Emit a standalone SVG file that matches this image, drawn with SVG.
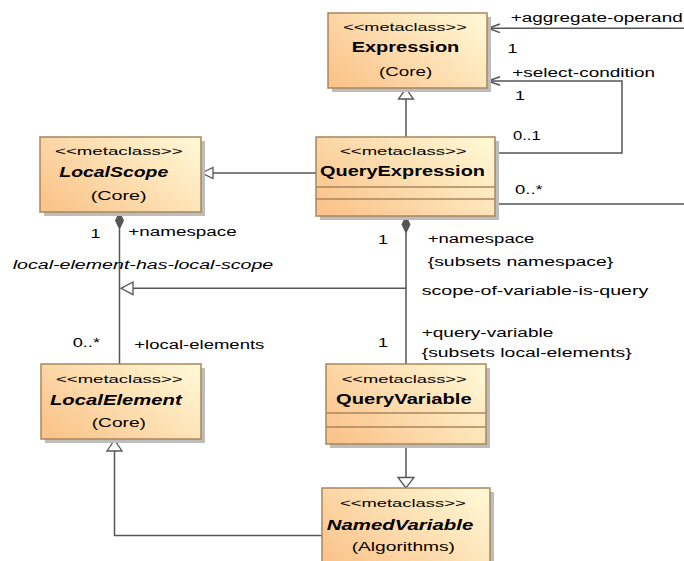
<svg xmlns="http://www.w3.org/2000/svg" width="684" height="561" viewBox="0 0 684 561">
<defs>
<linearGradient id="fillg" x1="0" y1="0.8" x2="1" y2="0.2">
<stop offset="0" stop-color="#fbc48c"/>
<stop offset="1" stop-color="#fff6d2"/>
</linearGradient>
<style>
.shadow{fill:#bdbdbd}
.box{fill:url(#fillg);stroke:#a8865c;stroke-width:1.5}
.sep{stroke:#a8865c;stroke-width:1.5}
.st{font-family:"Liberation Sans",Arial,sans-serif;font-size:11.5px;fill:#000}
.nm{font-family:"Liberation Sans",Arial,sans-serif;font-size:14px;font-weight:bold;fill:#000}
.nmi{font-family:"Liberation Sans",Arial,sans-serif;font-size:14px;font-weight:bold;font-style:italic;fill:#000}
.tx{font-family:"Liberation Sans",Arial,sans-serif;font-size:12.5px;fill:#000}
.txi{font-family:"Liberation Sans",Arial,sans-serif;font-size:12.5px;font-style:italic;fill:#000}
.ln{fill:none;stroke:#555;stroke-width:1.5}
.tri{fill:#fff;stroke:#555;stroke-width:1.3}
.dia{fill:#555;stroke:#555;stroke-width:1}
</style>
</defs>

<g id="connectors">
<line class="ln" x1="406" y1="137" x2="406" y2="99"/>
<polygon class="tri" points="406,88.5 398.5,99 413.5,99"/>
<line class="ln" x1="684" y1="28.3" x2="488" y2="28.3"/>
<polyline class="ln" points="500,24 488,28.3 500,32.6"/>
<polyline class="ln" points="495,153 622,153 622,81 488,81"/>
<polyline class="ln" points="500,76.7 488,81 500,85.3"/>
<line class="ln" x1="495" y1="204" x2="684" y2="204"/>
<line class="ln" x1="316" y1="173" x2="213" y2="173"/>
<polygon class="tri" points="201.5,173 213,167.5 213,178.5"/>
<polygon class="dia" points="119.5,212 123.5,220.5 119.5,229 115.5,220.5"/>
<line class="ln" x1="119.5" y1="229" x2="119.5" y2="364"/>
<polygon class="dia" points="406,216 410,224.5 406,233 402,224.5"/>
<line class="ln" x1="406" y1="233" x2="406" y2="364"/>
<line class="ln" x1="406" y1="288.3" x2="133" y2="288.3"/>
<polygon class="tri" points="121,288.3 133,282 133,294.6"/>
<line class="ln" x1="406" y1="444" x2="406" y2="477.5"/>
<polygon class="tri" points="406,488 398,477.5 414,477.5"/>
<polyline class="ln" points="322,535.5 114.5,535.5 114.5,451"/>
<polygon class="tri" points="114.5,440 107,451 122,451"/>
</g>

<g id="labels">
<text class="tx" x="510.7" y="22" textLength="172" lengthAdjust="spacingAndGlyphs">+aggregate-operand</text>
<text class="tx" x="507.5" y="53" textLength="10" lengthAdjust="spacingAndGlyphs">1</text>
<text class="tx" x="512.3" y="77" textLength="142.7" lengthAdjust="spacingAndGlyphs">+select-condition</text>
<text class="tx" x="515" y="100" textLength="10" lengthAdjust="spacingAndGlyphs">1</text>
<text class="tx" x="513" y="140" textLength="27.7" lengthAdjust="spacingAndGlyphs">0..1</text>
<text class="tx" x="515" y="194" textLength="27.7" lengthAdjust="spacingAndGlyphs">0..*</text>
<text class="tx" x="90.5" y="238" textLength="10" lengthAdjust="spacingAndGlyphs">1</text>
<text class="tx" x="128.3" y="236" textLength="108.4" lengthAdjust="spacingAndGlyphs">+namespace</text>
<text class="txi" x="12.7" y="269" textLength="260.6" lengthAdjust="spacingAndGlyphs">local-element-has-local-scope</text>
<text class="tx" x="378" y="244" textLength="10" lengthAdjust="spacingAndGlyphs">1</text>
<text class="tx" x="427.7" y="243" textLength="106.6" lengthAdjust="spacingAndGlyphs">+namespace</text>
<text class="tx" x="427.7" y="266" textLength="185.6" lengthAdjust="spacingAndGlyphs">{subsets namespace}</text>
<text class="tx" x="421.7" y="294.5" textLength="226.6" lengthAdjust="spacingAndGlyphs">scope-of-variable-is-query</text>
<text class="tx" x="421.7" y="336.5" textLength="131.6" lengthAdjust="spacingAndGlyphs">+query-variable</text>
<text class="tx" x="421.7" y="356.5" textLength="210" lengthAdjust="spacingAndGlyphs">{subsets local-elements}</text>
<text class="tx" x="378" y="347" textLength="10" lengthAdjust="spacingAndGlyphs">1</text>
<text class="tx" x="72.7" y="347" textLength="27.3" lengthAdjust="spacingAndGlyphs">0..*</text>
<text class="tx" x="134.3" y="348.5" textLength="130" lengthAdjust="spacingAndGlyphs">+local-elements</text>
</g>

<g id="Expression">
<rect class="shadow" x="332" y="17" width="159" height="75"/>
<rect class="box" x="328" y="13" width="159" height="75"/>
<text class="st" x="343.3" y="30.5" textLength="123.4" lengthAdjust="spacingAndGlyphs">&lt;&lt;metaclass&gt;&gt;</text>
<text class="nm" x="351.7" y="52" textLength="107.6" lengthAdjust="spacingAndGlyphs">Expression</text>
<text class="tx" x="379" y="75.5" textLength="53.3" lengthAdjust="spacingAndGlyphs">(Core)</text>
</g>

<g id="QueryExpression">
<rect class="shadow" x="320" y="141" width="179" height="79"/>
<rect class="box" x="316" y="137" width="179" height="79"/>
<line class="sep" x1="316" y1="187" x2="495" y2="187"/>
<line class="sep" x1="316" y1="199" x2="495" y2="199"/>
<text class="st" x="340" y="155" textLength="126.7" lengthAdjust="spacingAndGlyphs">&lt;&lt;metaclass&gt;&gt;</text>
<text class="nm" x="320" y="176" textLength="165" lengthAdjust="spacingAndGlyphs">QueryExpression</text>
</g>

<g id="LocalScope">
<rect class="shadow" x="44" y="141" width="161" height="75"/>
<rect class="box" x="40" y="137" width="161" height="75"/>
<text class="st" x="55" y="154.5" textLength="127.7" lengthAdjust="spacingAndGlyphs">&lt;&lt;metaclass&gt;&gt;</text>
<text class="nmi" x="59.3" y="176.5" textLength="109" lengthAdjust="spacingAndGlyphs">LocalScope</text>
<text class="tx" x="90.7" y="199.5" textLength="56" lengthAdjust="spacingAndGlyphs">(Core)</text>
</g>

<g id="LocalElement">
<rect class="shadow" x="45" y="368" width="160" height="75"/>
<rect class="box" x="41" y="364" width="160" height="75"/>
<text class="st" x="56" y="383" textLength="126.7" lengthAdjust="spacingAndGlyphs">&lt;&lt;metaclass&gt;&gt;</text>
<text class="nmi" x="50" y="405" textLength="131.7" lengthAdjust="spacingAndGlyphs">LocalElement</text>
<text class="tx" x="91.7" y="427" textLength="54.3" lengthAdjust="spacingAndGlyphs">(Core)</text>
</g>

<g id="QueryVariable">
<rect class="shadow" x="330" y="368" width="160" height="80"/>
<rect class="box" x="326" y="364" width="160" height="80"/>
<line class="sep" x1="326" y1="413" x2="486" y2="413"/>
<line class="sep" x1="326" y1="427" x2="486" y2="427"/>
<text class="st" x="341.7" y="383" textLength="125" lengthAdjust="spacingAndGlyphs">&lt;&lt;metaclass&gt;&gt;</text>
<text class="nm" x="336" y="403.5" textLength="135.7" lengthAdjust="spacingAndGlyphs">QueryVariable</text>
</g>

<g id="NamedVariable">
<rect class="shadow" x="326" y="492" width="168" height="80"/>
<rect class="box" x="322" y="488" width="168" height="80"/>
<text class="st" x="340" y="507" textLength="125.7" lengthAdjust="spacingAndGlyphs">&lt;&lt;metaclass&gt;&gt;</text>
<text class="nmi" x="326.7" y="529.5" textLength="146.6" lengthAdjust="spacingAndGlyphs">NamedVariable</text>
<text class="tx" x="351.7" y="550.5" textLength="103.3" lengthAdjust="spacingAndGlyphs">(Algorithms)</text>
</g>
</svg>
